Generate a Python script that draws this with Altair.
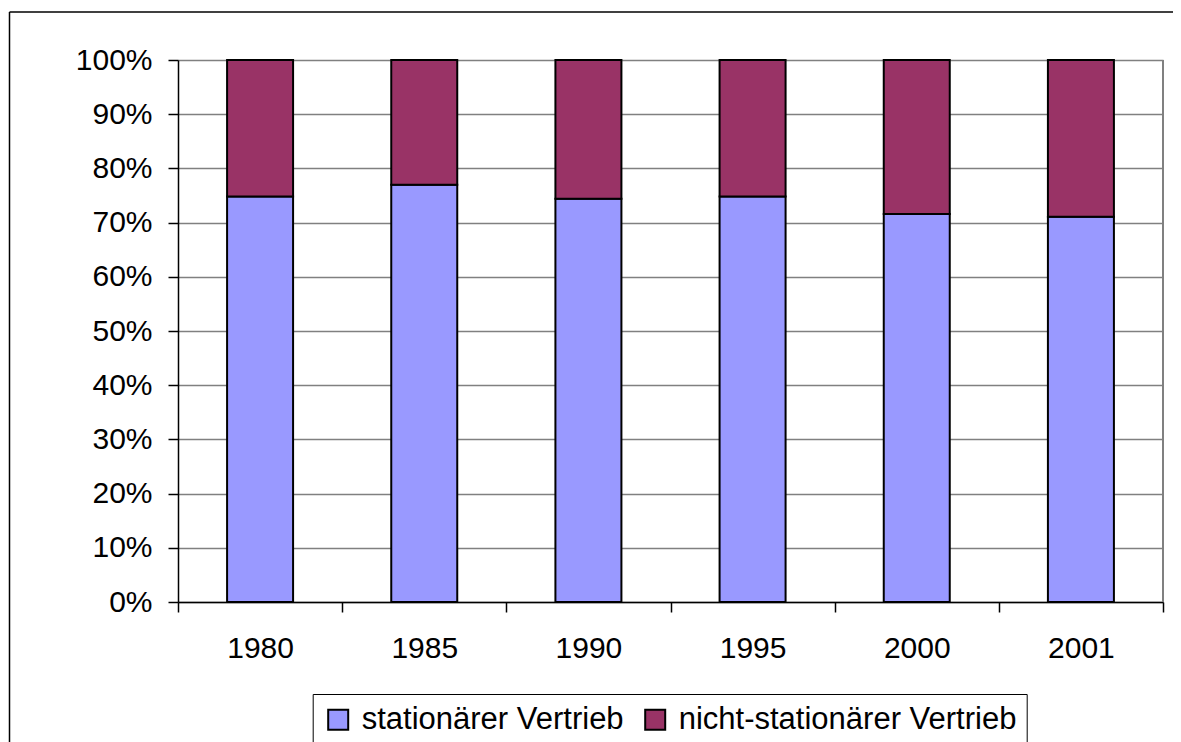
import altair as alt
import pandas as pd

years = ["1980", "1985", "1990", "1995", "2000", "2001"]
stationaer = [74.8, 77.0, 74.4, 74.8, 71.6, 71.1]
nicht_stationaer = [25.2, 23.0, 25.6, 25.2, 28.4, 28.9]
series = ["stationärer Vertrieb", "nicht-stationärer Vertrieb"]
colors = ["#9999FF", "#993366"]

rows = []
for i, y in enumerate(years):
    rows.append({"year": y, "series": series[0], "value": stationaer[i] / 100, "ord": 0})
    rows.append({"year": y, "series": series[1], "value": nicht_stationaer[i] / 100, "ord": 1})
df = pd.DataFrame(rows)

FONT = "Liberation Sans"
W, H = 985, 542

bars = alt.Chart(df).mark_bar(size=66, stroke="black", strokeWidth=2).encode(
    x=alt.X("year:O", sort=years, title=None,
            scale=alt.Scale(paddingInner=0, paddingOuter=0),
            axis=alt.Axis(labelAngle=0, labelFontSize=30, labelFont=FONT, labelColor="black",
                          tickBand="extent", tickSize=10, tickColor="black", tickWidth=1.5,
                          domainColor="black", domainWidth=1.5, labelPadding=21, grid=False)),
    y=alt.Y("value:Q", stack="zero", title=None,
            scale=alt.Scale(domain=[0, 1], nice=False),
            axis=alt.Axis(values=[i / 10 for i in range(11)], format=".0%", labelFontSize=30,
                          labelFont=FONT, labelColor="black", labelPadding=16, tickSize=10,
                          tickColor="black", tickWidth=1.5, domainColor="black", domainWidth=1.5,
                          gridColor="#808080", gridWidth=1.5)),
    color=alt.Color("series:N", scale=alt.Scale(domain=series, range=colors),
                    legend=alt.Legend(title=None, orient="none", direction="horizontal",
                                      legendX=134.7, legendY=634, symbolType="square",
                                      symbolSize=400, symbolStrokeColor="black",
                                      symbolStrokeWidth=2, labelFontSize=31, labelFont=FONT,
                                      labelColor="black", labelOffset=8, columnPadding=16,
                                      labelLimit=0, padding=10, strokeColor="black",
                                      fillColor="white", symbolOpacity=1)),
    order=alt.Order("ord:Q", sort="ascending"),
)

one = alt.Data(values=[{"a": 1}])

right_border = alt.Chart(one).mark_rule(color="#808080", strokeWidth=2).encode(
    x=alt.value(W), y=alt.value(0), y2=alt.value(H)
)

frame_top = alt.Chart(one).mark_rule(color="black", strokeWidth=1.5).encode(
    x=alt.value(-168.5), x2=alt.value(1100), y=alt.value(-48)
)
frame_left = alt.Chart(one).mark_rule(color="black", strokeWidth=1.5).encode(
    x=alt.value(-168.5), y=alt.value(-48), y2=alt.value(800)
)

chart = alt.layer(bars, right_border, frame_top, frame_left).properties(
    width=W, height=H,
    padding={"left": 170, "top": 52, "right": 10, "bottom": 140},
    autosize=alt.AutoSizeParams(type="none"),
).configure_view(stroke=None).configure(background="white")

chart.save("out.html", embed_options={"renderer": "svg", "actions": False})
